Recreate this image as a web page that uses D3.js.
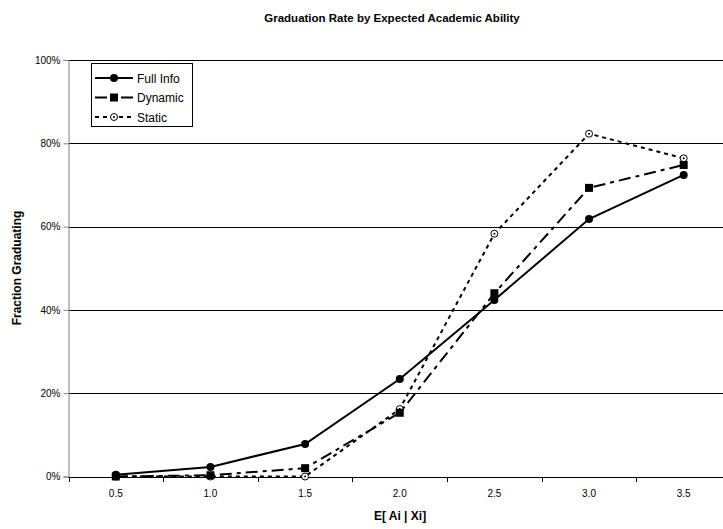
<!DOCTYPE html>
<html><head><meta charset="utf-8">
<script src="https://cdn.jsdelivr.net/npm/d3@7"></script>
<style>body{margin:0;background:#fff}svg{display:block;font-family:"Liberation Sans",Arial,sans-serif}</style>
</head><body><svg id="c" width="723" height="529"></svg>
<script>
const categories = ["0.5","1.0","1.5","2.0","2.5","3.0","3.5"];
const fullInfo = [0.004,0.023,0.078,0.234,0.424,0.618,0.724];
const dynamic  = [0.000,0.003,0.020,0.153,0.440,0.693,0.748];
const staticV  = [0.000,0.000,0.000,0.162,0.583,0.823,0.764];
const yTicks = [0,0.2,0.4,0.6,0.8,1.0];
const seriesNames = ["Full Info","Dynamic","Static"];

(function(){
const svg = d3.select("#c");
const pLeft = 68.5, pRight = 731, pTop = 60, pBottom = 476.5;
const x = d3.scaleBand().domain(categories).range([pLeft,pRight]);
const y = d3.scaleLinear().domain([0,1]).range([pBottom,pTop]);

svg.append("g").selectAll("line").data(yTicks.filter(d=>d>0)).join("line")
  .attr("x1",pLeft).attr("x2",723).attr("y1",d=>Math.round(y(d))+0.5).attr("y2",d=>Math.round(y(d))+0.5)
  .attr("stroke","#000").attr("stroke-width",1);

const ya = svg.append("g").attr("transform",`translate(${pLeft},0)`)
  .call(d3.axisLeft(y).tickValues(yTicks).tickFormat(d3.format(".0%")).tickSize(5).tickPadding(3));
ya.select(".domain").attr("stroke","#808080");
ya.selectAll(".tick line").attr("stroke","#808080");
ya.selectAll("text").attr("font-size","10px").attr("fill","#000").attr("font-family","Liberation Sans, Arial, sans-serif");

const xa = svg.append("g").attr("transform",`translate(0,${Math.round(pBottom)+0.5})`)
  .call(d3.axisBottom(x).tickSize(0).tickPadding(12));
xa.select(".domain").remove();
svg.append("line").attr("x1",pLeft).attr("x2",723).attr("y1",Math.round(pBottom)+0.5).attr("y2",Math.round(pBottom)+0.5).attr("stroke","#000");
xa.selectAll("text").attr("font-size","10px").attr("fill","#000").attr("font-family","Liberation Sans, Arial, sans-serif");
const bounds = categories.map(c=>x(c));
svg.append("g").selectAll("line").data(bounds).join("line")
  .attr("x1",d=>Math.round(d)+0.5).attr("x2",d=>Math.round(d)+0.5)
  .attr("y1",Math.round(pBottom)).attr("y2",Math.round(pBottom)+5).attr("stroke","#000");

const cx = c => x(c)+x.bandwidth()/2;
const line = d3.line().x((d,i)=>cx(categories[i])).y(d=>y(d));

const styles = [
  {data:fullInfo, dash:null},
  {data:dynamic, dash:"12,5,4,5"},
  {data:staticV, dash:"4,4"}
];
[2,1,0].forEach(k=>{
  svg.append("path").datum(styles[k].data).attr("d",line)
    .attr("fill","none").attr("stroke","#000").attr("stroke-width",2)
    .attr("stroke-dasharray",styles[k].dash);
});
function marker(g,k,px,py){
  if(k===0) g.append("circle").attr("cx",px).attr("cy",py).attr("r",4).attr("fill","#000");
  else if(k===1) g.append("rect").attr("x",px-4).attr("y",py-4).attr("width",8).attr("height",8).attr("fill","#000");
  else { g.append("circle").attr("cx",px).attr("cy",py).attr("r",3.5).attr("fill","#fff").attr("stroke","#000").attr("stroke-width",1);
         g.append("circle").attr("cx",px).attr("cy",py).attr("r",1).attr("fill","#000"); }
}
[2,1,0].forEach(k=>{
  const g = svg.append("g");
  styles[k].data.forEach((v,i)=>marker(g,k,cx(categories[i]),y(v)));
});

svg.append("text").attr("x",392).attr("y",22).attr("text-anchor","middle")
  .attr("font-size","11.5px").attr("font-weight","bold").text("Graduation Rate by Expected Academic Ability");
svg.append("text").attr("x",400).attr("y",520).attr("text-anchor","middle")
  .attr("font-size","12px").attr("font-weight","bold").text("E[ Ai | Xi]");
svg.append("text").attr("transform","translate(21,268) rotate(-90)").attr("text-anchor","middle")
  .attr("font-size","12px").attr("font-weight","bold").text("Fraction Graduating");

const lg = svg.append("g");
lg.append("rect").attr("x",91.5).attr("y",63.5).attr("width",101).attr("height",63).attr("fill","#fff").attr("stroke","#000");
seriesNames.forEach((n,k)=>{
  const ly = 78 + k*19.5;
  lg.append("line").attr("x1",95).attr("x2",133).attr("y1",ly).attr("y2",ly)
    .attr("stroke","#000").attr("stroke-width",2).attr("stroke-dasharray",styles[k].dash);
  marker(lg,k,114,ly);
  lg.append("text").attr("x",137).attr("y",ly+4.5).attr("font-size","12px").text(n);
});
})();
</script></body></html>
